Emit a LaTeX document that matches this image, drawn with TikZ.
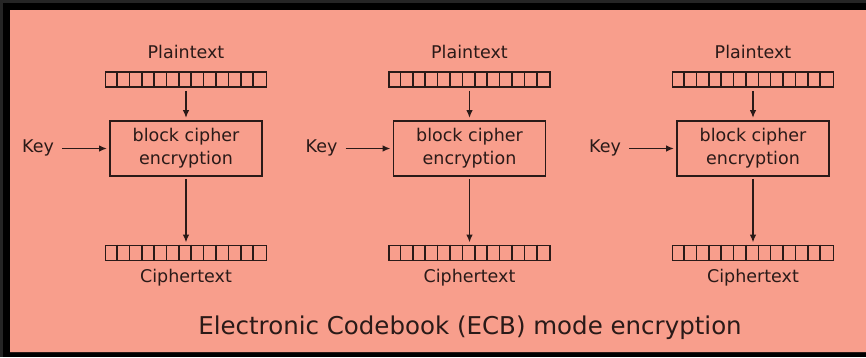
\documentclass[tikz,border=0pt]{standalone}
\usepackage{fontspec}
\setmainfont{DejaVu Sans}
\usetikzlibrary{arrows.meta,calc}
\definecolor{salmon}{HTML}{F89E8C}
\definecolor{ink}{HTML}{2A1A18}
\definecolor{frameg}{HTML}{252525}
\tikzset{
  lbl/.style={text=ink, font=\fontsize{17.5}{21}\selectfont, inner sep=0pt},
  cbox/.style={draw=ink, line width=1.8pt, minimum width=152pt, minimum height=55pt, align=center, inner sep=0pt, text=ink, font=\fontsize{17.5}{23}\selectfont},
  reg/.style={draw=ink, line width=1.8pt, minimum width=161pt, minimum height=15pt, inner sep=0pt},
  divl/.style={draw=ink, line width=1.6pt},
  arr/.style={draw=ink, line width=1.7pt, -{Latex[length=8pt,width=6.5pt]}},
}
\begin{document}
\begin{tikzpicture}[x=1pt,y=-1pt]
\useasboundingbox (0,0) rectangle (866,357);
\fill[black] (0,0) rectangle (866,357);
\fill[frameg] (0,0) rectangle (866,3);
\fill[frameg] (0,0) rectangle (3,357);
\fill[salmon] (10,10) rectangle (866,352.5);
\draw[ink, line width=0.8pt] (10,352.8) -- (866,352.8);
\foreach \i/\cx in {1/186, 2/469.5, 3/753}{
  \node[lbl] (pt\i) at (\cx,52) {Plaintext};
  \node[reg] (rp\i) at (\cx,79.5) {};
  \foreach \k in {1,...,12}{
    \draw[divl] ($(rp\i.north west)+(\k*161/13,0)$) -- ($(rp\i.south west)+(\k*161/13,0)$);
  }
  \node[cbox] (bc\i) at (\cx,148.5) {block cipher\\encryption};
  \node[reg] (rc\i) at (\cx,253) {};
  \foreach \k in {1,...,12}{
    \draw[divl] ($(rc\i.north west)+(\k*161/13,0)$) -- ($(rc\i.south west)+(\k*161/13,0)$);
  }
  \node[lbl] (ct\i) at (\cx,278) {Ciphertext};
  \node[lbl] (key\i) at (\cx-148,148) {Key};
  \coordinate (ks\i) at (\cx-124,148.5);
  \draw[arr] (ks\i) -- ($(bc\i.west)+(-2,0)$);
  \draw[arr] ($(rp\i.south)+(0,3)$) -- ($(bc\i.north)+(0,-2)$);
  \draw[arr] ($(bc\i.south)+(0,2)$) -- ($(rc\i.north)+(0,-2)$);
}
\node[text=ink, font=\fontsize{24.5}{28}\selectfont, inner sep=0pt] (title) at (470,328) {Electronic Codebook (ECB) mode encryption};
\end{tikzpicture}
\end{document}
